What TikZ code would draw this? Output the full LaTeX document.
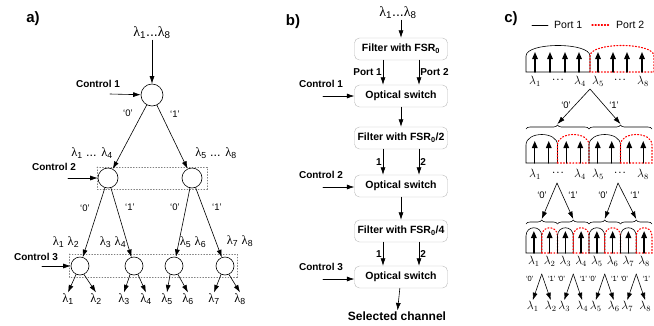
\documentclass[tikz,border=0pt]{standalone}
\usepackage[no-math]{fontspec}
\setmainfont{Liberation Sans}
\newfontfamily\grk{Liberation Serif}
\usetikzlibrary{arrows.meta,decorations.pathreplacing}
\newcommand{\lam}[1]{{\grk λ}\textsubscript{#1}}
\newcommand{\tdots}{{\fontsize{5}{6}\selectfont\textbullet\hspace{2.5pt}\textbullet\hspace{2.5pt}\textbullet}}
% arch of a filter passband: x1, x2, base, shoulder, control height, style
\newcommand{\passarch}[6]{\draw[#6] (#1,#3) -- (#1,#4) .. controls (#1,#5) and (#2,#5) .. (#2,#4) -- (#2,#3) -- cycle;}

\begin{document}
\begin{tikzpicture}[x=1pt, y=-1pt, line cap=round,
  arr/.style={-{Latex[length=7.5pt,width=5pt]}, line width=0.6pt},
  swc/.style={circle, draw, line width=0.6pt, inner sep=0pt},
  ctl/.style={font=\bfseries\fontsize{10}{12}\selectfont, inner sep=1pt},
  grp/.style={draw=gray, dotted, line width=0.8pt},
  bit/.style={font=\fontsize{9.5}{11}\selectfont, inner sep=1pt},
  bitsm/.style={font=\fontsize{7.5}{9}\selectfont, inner sep=0.5pt},
  lab/.style={font=\fontsize{12.5}{14}\selectfont, inner sep=1pt},
  lamc/.style={font=\fontsize{12}{14}\selectfont, inner sep=0.5pt},
  blk/.style={draw=gray!55, rounded corners=5pt, minimum width=93pt, minimum height=22pt,
    font=\bfseries\fontsize{10.5}{12}\selectfont, inner sep=1pt},
  pk/.style={-{Triangle[length=7pt,width=5.5pt]}, line width=1.4pt},
  p1/.style={line width=0.6pt},
  p2/.style={red, dotted, line width=1.1pt},
  brc/.style={decorate, decoration={brace, amplitude=4pt}, line width=0.6pt},
  panel/.style={font=\bfseries\fontsize{15}{17}\selectfont}]

\useasboundingbox (0,0) rectangle (654,325);

% ---------------- a) binary tree of switches
\node[panel] (pa) at (33,19) {a)};
\node[lab, font=\fontsize{14}{16}\selectfont] (ain) at (152,33) {\lam{1}...\lam{8}};
\node[swc, minimum size=22pt] (s1) at (152,95) {};
\draw[arr] (ain) -- (s1);

\node[ctl] (ac1) at (98,84) {Control 1};
\coordinate (ac1in) at (110,94);
\draw[arr] (ac1in) -- (s1);

% level 2
\draw[grp] (97,167) rectangle (207,189);
\node[swc, minimum size=20pt] (s2a) at (108,178) {};
\node[swc, minimum size=20pt] (s2b) at (192,178) {};
\draw[arr] (s1) -- (s2a);
\draw[arr] (s1) -- (s2b);
\node[bit] (b1a) at (128,113) {`0'};
\node[bit] (b1b) at (175,114) {`1'};
\node[lab] (g1) at (92,153) {\lam{1} ... \lam{4}};
\node[lab] (g2) at (216,153) {\lam{5} ... \lam{8}};
\node[ctl] (ac2) at (54,167) {Control 2};
\coordinate (ac2in) at (68,178);
\draw[arr] (ac2in) -- (s2a);

% level 3
\draw[grp] (69,254) rectangle (237,277);
\node[swc, minimum size=18pt] (s3a) at (80,266) {};
\node[swc, minimum size=18pt] (s3b) at (134,266) {};
\node[swc, minimum size=18pt] (s3c) at (174,266) {};
\node[swc, minimum size=18pt] (s3d) at (225,266) {};
\draw[arr] (s2a) -- (s3a);
\draw[arr] (s2a) -- (s3b);
\draw[arr] (s2b) -- (s3c);
\draw[arr] (s2b) -- (s3d);
\node[bit] (b2a) at (85,208) {`0'};
\node[bit] (b2b) at (130,207) {`1'};
\node[bit] (b2c) at (175,207) {`0'};
\node[bit] (b2d) at (217,207) {`1'};
\node[lab] (h1) at (66,242) {\lam{1} \lam{2}};
\node[lab] (h2) at (113,242) {\lam{3} \lam{4}};
\node[lab] (h3) at (193,242) {\lam{5} \lam{6}};
\node[lab] (h4) at (240,241) {\lam{7} \lam{8}};
\node[ctl] (ac3) at (36,257) {Control 3};
\coordinate (ac3in) at (42,266);
\draw[arr] (ac3in) -- (s3a);

% outputs
\foreach \n/\x/\s/\a in {1/68/a/245, 2/96/a/295, 3/124/b/245, 4/146/b/295,
                         5/167/c/245, 6/188/c/295, 7/214/d/245, 8/240/d/295} {
  \node[lab] (ao\n) at (\x,299) {\lam{\n}};
  \draw[arr] (s3\s.\a) -- (ao\n.north);
}

% ---------------- b) cascaded filters and switches
\node[panel] (pb) at (293,22) {b)};
\node[lab, font=\fontsize{14}{16}\selectfont] (bin) at (398,13) {\lam{1}...\lam{8}};
\node[blk] (f1) at (401,49) {Filter with FSR\textsubscript{0}};
\node[blk] (o1) at (401,96) {Optical switch};
\node[blk] (f2) at (401,138) {Filter with FSR\textsubscript{0}/2};
\node[blk] (o2) at (401,186) {Optical switch};
\node[blk] (f3) at (401,231) {Filter with FSR\textsubscript{0}/4};
\node[blk] (o3) at (401,277) {Optical switch};
\node[ctl, font=\bfseries\fontsize{12}{14}\selectfont] (sel) at (397,316) {Selected channel};

\draw[arr] (bin.south -| f1.north) -- (f1.north);
\draw[arr] ([xshift=-18pt]f1.south) -- ([xshift=-18pt]o1.north) node[ctl, midway, left] {Port 1};
\draw[arr] ([xshift=18pt]f1.south) -- ([xshift=18pt]o1.north) node[ctl, midway, right] {Port 2};
\draw[arr] (o1) -- (f2);
\draw[arr] ([xshift=-18pt]f2.south) -- ([xshift=-18pt]o2.north) node[ctl, midway, left] {1};
\draw[arr] ([xshift=18pt]f2.south) -- ([xshift=18pt]o2.north) node[ctl, midway, right] {2};
\draw[arr] (o2) -- (f3);
\draw[arr] ([xshift=-18pt]f3.south) -- ([xshift=-18pt]o3.north) node[ctl, midway, left] {1};
\draw[arr] ([xshift=18pt]f3.south) -- ([xshift=18pt]o3.north) node[ctl, midway, right] {2};
\draw[arr] (o3) -- (sel);

\foreach \i/\y in {1/84, 2/175, 3/267} {
  \node[ctl] (bc\i) at (321,\y) {Control \i};
  \coordinate (bc\i in) at (323,\y+12);
}
\draw[arr] (bc1in) -- (bc1in -| o1.west);
\draw[arr] (bc2in) -- (bc2in -| o2.west);
\draw[arr] (bc3in) -- (bc3in -| o3.west);

% ---------------- c) passbands of the two ports
\node[panel] (pc) at (511,19) {c)};
\coordinate (k1a) at (532,25);
\coordinate (k1b) at (548,25);
\coordinate (k2a) at (592,25);
\coordinate (k2b) at (610,25);
\draw[p1] (k1a) -- (k1b);
\draw[p2] (k2a) -- (k2b);
\node[font=\fontsize{10.5}{12}\selectfont, anchor=west, inner sep=1pt] (kp1) at (553,25) {Port 1};
\node[font=\fontsize{10.5}{12}\selectfont, anchor=west, inner sep=1pt] (kp2) at (615,25) {Port 2};

% row 1
\passarch{526}{590}{72}{56}{42}{p1}
\passarch{590}{654}{72}{56}{42}{p2}
\foreach \x in {535,550,565,579,598,613,627,642} \draw[pk] (\x,72) -- (\x,52);
\foreach \n/\x in {1/535,4/580,5/598,8/643} \node[lamc] (ra\n) at (\x,81) {$\lambda_\n$};
\node[inner sep=0pt] (rad1) at (558,80) {\tdots};
\node[inner sep=0pt] (rad2) at (620,80) {\tdots};

\coordinate (v1) at (590,89);
\coordinate (t1) at (557.5,124);
\coordinate (t2) at (620.5,124);
\draw[arr] (v1) -- (t1);
\draw[arr] (v1) -- (t2);
\node[bit] (q1a) at (566,105) {`0'};
\node[bit] (q1b) at (614,105) {`1'};
\draw[brc] (526,129) -- (589,129);
\draw[brc] (589,129) -- (652,129);

% row 2
\foreach \i in {0,1,2,3} {
  \pgfmathsetmacro{\xa}{526+31.5*\i}
  \pgfmathsetmacro{\xb}{\xa+31.5}
  \pgfmathsetmacro{\xm}{\xa+15.75}
  \ifodd\i \passarch{\xa}{\xb}{163}{145}{131}{p2} \else \passarch{\xa}{\xb}{163}{145}{131}{p1} \fi
  \draw[pk] (\xm-7,163) -- (\xm-7,141);
  \draw[pk] (\xm+7,163) -- (\xm+7,141);
}
\foreach \n/\x in {1/535,4/580,5/598,8/643} \node[lamc] (rb\n) at (\x,174) {$\lambda_\n$};
\node[inner sep=0pt] (rbd1) at (558,173) {\tdots};
\node[inner sep=0pt] (rbd2) at (620,173) {\tdots};

\coordinate (v2) at (557,183);
\coordinate (v3) at (618,183);
\foreach \i/\v in {0/v2,1/v2,2/v3,3/v3} {
  \pgfmathsetmacro{\xa}{526+31.5*\i}
  \coordinate (u\i) at (\xa+15.75,219);
  \draw[arr] (\v) -- (u\i);
  \draw[brc] (\xa,224) -- (\xa+31.5,224);
}
\node[bit] (q2a) at (542,195) {`0'};
\node[bit] (q2b) at (573,195) {`1'};
\node[bit] (q2c) at (603,195) {`0'};
\node[bit] (q2d) at (635,195) {`1'};

% row 3
\foreach \i in {0,...,7} {
  \pgfmathsetmacro{\xa}{526+15.75*\i}
  \pgfmathsetmacro{\xb}{\xa+15.75}
  \pgfmathsetmacro{\xm}{\xa+7.875}
  \pgfmathtruncatemacro{\n}{\i+1}
  \ifodd\i \passarch{\xa}{\xb}{253}{236}{225}{p2} \else \passarch{\xa}{\xb}{253}{236}{225}{p1} \fi
  \draw[pk] (\xm,253) -- (\xm,231);
  \node[lamc] (rc\n) at (\xm,261) {$\lambda_\n$};
}

% last split
\foreach \j in {0,1,2,3} {
  \pgfmathsetmacro{\xv}{541.75+31.5*\j}
  \pgfmathtruncatemacro{\na}{2*\j+1}
  \pgfmathtruncatemacro{\nb}{2*\j+2}
  \coordinate (w\j) at (\xv,274);
  \node[lamc] (rd\na) at (\xv-9,306) {$\lambda_\na$};
  \node[lamc] (rd\nb) at (\xv+9,306) {$\lambda_\nb$};
  \draw[arr] (w\j) -- (rd\na.north);
  \draw[arr] (w\j) -- (rd\nb.north);
  \node[bitsm] (qa\j) at (\xv-12,279) {`0'};
  \node[bitsm] (qb\j) at (\xv+10,279) {`1'};
}
\end{tikzpicture}
\end{document}
